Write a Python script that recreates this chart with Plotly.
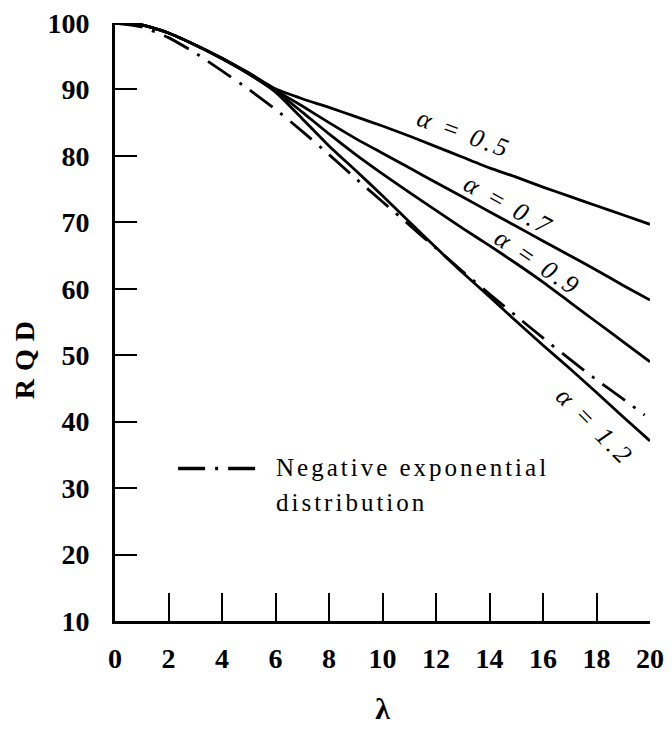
import plotly.graph_objects as go

lam = list(range(0, 21))

rqd_a05 = [100, 99.7, 98.5, 96.7, 94.7, 92.5, 90.1, 88.6, 87.3, 85.9, 84.5,
           83.0, 81.4, 79.8, 78.2, 76.8, 75.3, 73.9, 72.5, 71.1, 69.7]
rqd_a07 = [100, 99.7, 98.5, 96.7, 94.7, 92.4, 89.9, 87.5, 85.0, 82.6, 80.4,
           78.2, 76.0, 73.8, 71.6, 69.4, 67.2, 65.0, 62.8, 60.5, 58.3]
rqd_a09 = [100, 99.7, 98.5, 96.7, 94.7, 92.4, 89.8, 86.6, 83.3, 80.2, 77.3,
           74.5, 71.8, 69.1, 66.5, 63.8, 61.0, 58.0, 55.0, 52.0, 49.0]
rqd_a12 = [100, 99.7, 98.5, 96.7, 94.6, 92.3, 89.6, 85.6, 81.5, 77.8, 74.0,
           70.1, 66.2, 62.4, 58.8, 55.1, 51.5, 48.0, 44.4, 40.7, 37.1]
lam_negexp = [0, 1, 2, 3, 4, 5, 6, 7, 8, 9, 10, 11, 12, 13, 14, 15, 16, 17, 18, 19, 19.8]
rqd_negexp = [100, 99.4, 97.8, 95.5, 92.8, 90.0, 87.0, 83.7, 80.2, 76.6, 73.1,
              69.6, 66.1, 62.6, 59.2, 55.9, 52.6, 49.4, 46.3, 43.4, 41.0]

x_ticks = [0, 2, 4, 6, 8, 10, 12, 14, 16, 18, 20]
y_ticks = [10, 20, 30, 40, 50, 60, 70, 80, 90, 100]

alpha_labels = ["α = 0.5", "α = 0.7", "α = 0.9", "α = 1.2"]
label_x = [13.05, 14.73, 15.81, 17.94]
label_y = [83.3, 72.6, 64.0, 39.3]
label_angle = [20, 29, 34, 45]

SERIF = "Liberation Serif, Times New Roman, serif"
DASHDOT = "28px,10px,3px,10px"

fig = go.Figure()
for ys in (rqd_a05, rqd_a07, rqd_a09, rqd_a12):
    fig.add_trace(go.Scatter(x=lam, y=ys, mode="lines",
                             line=dict(color="black", width=2.8, shape="spline", smoothing=0.5),
                             showlegend=False, hoverinfo="skip"))
fig.add_trace(go.Scatter(x=lam_negexp, y=rqd_negexp, mode="lines",
                         line=dict(color="black", width=2.8, dash=DASHDOT, shape="spline", smoothing=0.5),
                         showlegend=False, hoverinfo="skip"))

for t, xx, yy, ang in zip(alpha_labels, label_x, label_y, label_angle):
    fig.add_annotation(x=xx, y=yy, xref="x", yref="y",
                       text=f'<span style="letter-spacing:3px">{t}</span>',
                       showarrow=False, textangle=ang,
                       font=dict(family=SERIF, size=26, color="black", style="italic"))

# legend sample (paper coordinates)
fig.add_shape(type="line", xref="paper", yref="paper", x0=0.118, x1=0.271, y0=0.255, y1=0.255,
              line=dict(color="black", width=3.4, dash="27px,10px,3px,10px"))
fig.add_annotation(xref="paper", yref="paper", x=0.298, y=0.256, xanchor="left", yanchor="middle",
                   text='<span style="letter-spacing:3px">Negative exponential</span>', showarrow=False,
                   font=dict(family=SERIF, size=25, color="black"))
fig.add_annotation(xref="paper", yref="paper", x=0.298, y=0.198, xanchor="left", yanchor="middle",
                   text='<span style="letter-spacing:3px">distribution</span>', showarrow=False,
                   font=dict(family=SERIF, size=25, color="black"))

# y-axis title
fig.add_annotation(xref="paper", yref="paper", x=-0.170, y=0.443, xanchor="center", yanchor="middle",
                   text='<span style="letter-spacing:8px">RQD</span>', showarrow=False, textangle=-90,
                   font=dict(family=SERIF, size=28, color="black", weight="bold"))

fig.update_layout(
    width=656, height=717,
    margin=dict(l=107, r=14, t=15, b=104, autoexpand=False),
    paper_bgcolor="white", plot_bgcolor="white",
    font=dict(family=SERIF, color="black"),
)
fig.update_xaxes(range=[0, 20], tickvals=x_ticks, ticktext=[str(v) for v in x_ticks],
                 ticks="inside", ticklen=28, tickwidth=2, tickcolor="black",
                 showline=True, linecolor="black", linewidth=2.8, showgrid=False, zeroline=False,
                 automargin=False, ticklabelstandoff=10, ticklabeloverflow="allow",
                 tickfont=dict(family=SERIF, size=28, color="black", weight="bold"),
                 title=dict(text="λ", font=dict(family=SERIF, size=30, color="black", weight="bold"),
                            standoff=28))
fig.update_yaxes(range=[10, 100], tickvals=y_ticks, ticktext=[str(v) for v in y_ticks],
                 ticks="inside", ticklen=22, tickwidth=2, tickcolor="black",
                 showline=True, linecolor="black", linewidth=2.8, showgrid=False, zeroline=False,
                 automargin=False, ticklabelstandoff=17, ticklabeloverflow="allow",
                 tickfont=dict(family=SERIF, size=28, color="black", weight="bold"))

fig.write_html("out.html")
